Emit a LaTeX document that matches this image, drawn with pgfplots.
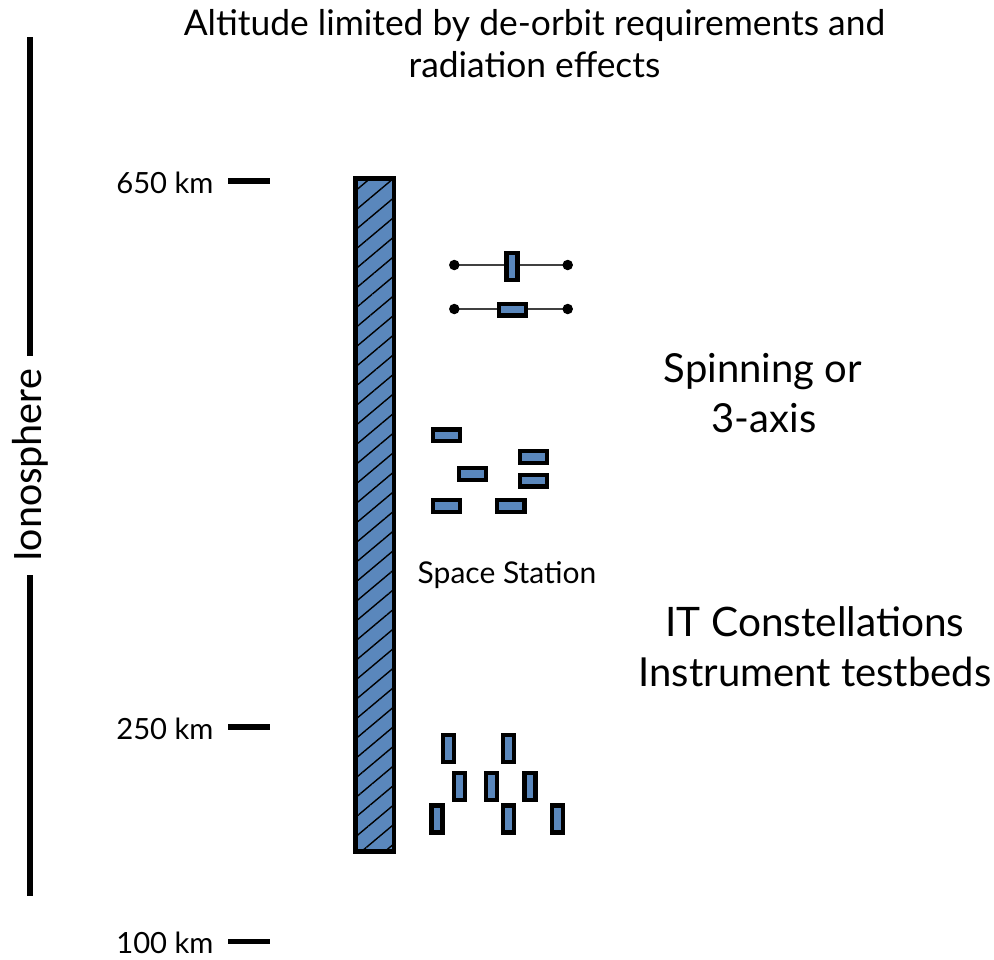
\documentclass[border=0pt]{standalone}
\usepackage{pgfplots}
\pgfplotsset{compat=1.18}
\usepackage{fontspec}
\setmainfont{Lato}
\newfontfamily\calibri{Carlito}
\usetikzlibrary{patterns.meta}
\definecolor{barblue}{RGB}{90,135,188}
\pgfdeclareplotmark{vsat}{\pgfpathrectanglecorners{\pgfpoint{-2.75pt}{-6.75pt}}{\pgfpoint{2.75pt}{6.75pt}}\pgfusepathqfillstroke}
\pgfdeclareplotmark{hsat}{\pgfpathrectanglecorners{\pgfpoint{-6.8pt}{-2.9pt}}{\pgfpoint{6.8pt}{2.9pt}}\pgfusepathqfillstroke}
\tikzset{lbl/.style={inner sep=0pt, outer sep=0pt}}
\begin{document}
\begin{tikzpicture}
\begin{axis}[
  width=497pt, height=479.5pt, scale only axis,
  xmin=0, xmax=994, ymin=0, ymax=959, y dir=reverse,
  hide axis, clip=false,
]
% frame (invisible) for bounding box
\addplot[draw=none, mark=none] coordinates {(0,0) (994,959)};
% Ionosphere bracket line
\addplot[black, line width=2.75pt, mark=none] coordinates {(30,37) (30,356)};
\addplot[black, line width=2.75pt, mark=none] coordinates {(30,575) (30,896)};
% altitude ticks
\addplot[black, line width=2.6pt, mark=none] coordinates {(228,181) (270,181)};
\addplot[black, line width=2.6pt, mark=none] coordinates {(228,727) (270,727)};
\addplot[black, line width=2.6pt, mark=none] coordinates {(228,941.5) (270,941.5)};
% main hatched bar
\addplot[draw=black, line width=2.3pt, fill=barblue, mark=none,
  postaction={pattern={Lines[angle=40,distance=7.5pt,line width=0.7pt]}, pattern color=black}]
  coordinates {(355.5,178.5) (393.8,178.5) (393.8,851.5) (355.5,851.5)} -- cycle;
% spinning satellites (dumbbells)
\addplot[black!75, line width=0.6pt, mark=*, mark size=2.3pt, mark options={fill=black, draw=black}]
  coordinates {(454.3,265) (567.7,265)};
\addplot[black!75, line width=0.6pt, mark=*, mark size=2.3pt, mark options={fill=black, draw=black}]
  coordinates {(454.3,309) (567.7,309)};
\addplot[only marks, mark=vsat, mark options={fill=barblue, draw=black, line width=2.2pt}]
  coordinates {(512,266.5)};
\addplot[only marks, mark=hsat, mark options={fill=barblue, draw=black, line width=2.2pt}]
  coordinates {(512.5,309.7)};
% 3-axis / space station cluster
\addplot[only marks, mark=hsat, mark options={fill=barblue, draw=black, line width=2.2pt}]
  coordinates {(446.5,435.3) (533.5,457) (472.5,474) (533.5,480.8) (446.5,506) (510.8,506)};
% constellation cluster
\addplot[only marks, mark=vsat, mark options={fill=barblue, draw=black, line width=2.2pt}]
  coordinates {(448.7,748.3) (508.3,748.3) (459.3,786.5) (491.7,786.5) (530,786.5)
               (437,819) (508.3,819) (557.7,819)};
% texts
\node[lbl, anchor=base, font=\fontsize{17.7}{21}\selectfont] at (axis cs:534.5,35) {Altitude limited by de-orbit requirements and};
\node[lbl, anchor=base, font=\fontsize{17.7}{21}\selectfont] at (axis cs:534.5,77) {radiation effects};
\node[lbl, anchor=base east, font=\fontsize{14.6}{17}\selectfont] at (axis cs:213.5,193.3) {650 km};
\node[lbl, anchor=base east, font=\fontsize{14.6}{17}\selectfont] at (axis cs:213.5,739.5) {250 km};
\node[lbl, anchor=base east, font=\fontsize{14.6}{17}\selectfont, overlay] at (axis cs:213.5,953) {100 km};
\node[lbl, anchor=base, rotate=90, font=\calibri\fontsize{21}{25}\selectfont] at (axis cs:41.7,465) {Ionosphere};
\node[lbl, anchor=base, font=\fontsize{15}{18}\selectfont] at (axis cs:507,583.3) {Space Station};
\node[lbl, anchor=base, font=\fontsize{20}{24}\selectfont] at (axis cs:763,382.7) {Spinning or};
\node[lbl, anchor=base, font=\fontsize{20}{24}\selectfont] at (axis cs:764,432.7) {3-axis};
\node[lbl, anchor=base, font=\fontsize{20.3}{24}\selectfont] at (axis cs:815,636.7) {IT Constellations};
\node[lbl, anchor=base, font=\fontsize{20}{24}\selectfont] at (axis cs:815,686.7) {Instrument testbeds};
\end{axis}
\end{tikzpicture}
\end{document}
